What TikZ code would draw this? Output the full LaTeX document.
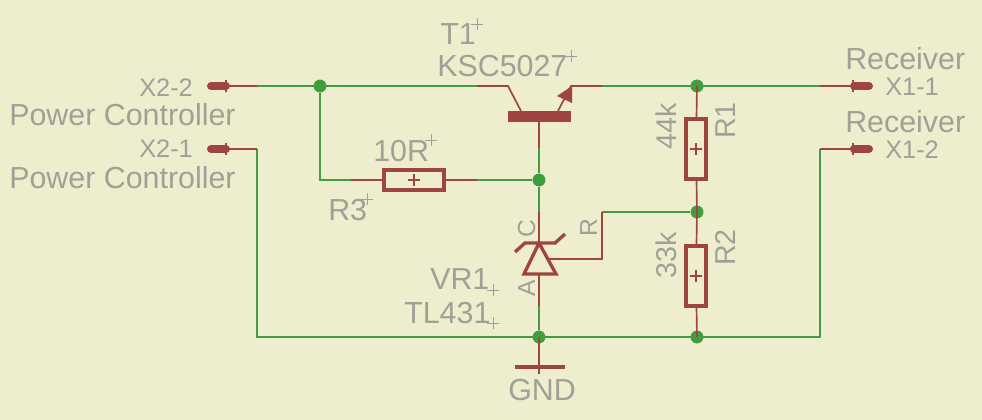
\documentclass[tikz,border=0pt]{standalone}
\usepackage{fontspec}
\setmainfont{Liberation Sans}
\usepackage{xcolor}
\usetikzlibrary{calc}
\definecolor{boardbg}{HTML}{EEEECE}
\definecolor{wiregreen}{HTML}{3F9F3F}
\definecolor{partred}{HTML}{9F453F}
\definecolor{labelgrey}{HTML}{A0A098}
\tikzset{
	wire/.style={wiregreen,line width=1.3pt},
	lead/.style={partred,line width=1.25pt},
	heavy/.style={partred,line width=2.7pt},
	pad/.style={partred,line width=6pt,line cap=round},
	junction/.style={circle,fill=wiregreen,inner sep=0pt,minimum size=9.5pt},
	resbox/.style={draw=partred,line width=2.7pt,fill=none,inner sep=0pt,outer sep=0pt},
	txt/.style={labelgrey,inner sep=0pt,anchor=base west,font=\fontsize{22.8}{26}\selectfont},
	smalltxt/.style={txt,font=\fontsize{19}{22}\selectfont},
	pintxt/.style={txt,font=\fontsize{18.5}{20}\selectfont,rotate=90},
	sidetxt/.style={txt,font=\fontsize{21.5}{25}\selectfont,rotate=90},
	originmark/.style={labelgrey,line width=0.7pt},
	redmark/.style={partred,line width=0.8pt}
}
\newcommand{\plusmark}[2]{\draw[#1] ($(#2)+(-6,0)$) -- ($(#2)+(6,0)$) ($(#2)+(0,-6)$) -- ($(#2)+(0,6)$);}
\begin{document}
\begin{tikzpicture}[x=0.75pt,y=-0.75pt]
	\fill[boardbg] (0,0) rectangle (982,420);
	\useasboundingbox (0,0) rectangle (982,420);
	% wire points
	\coordinate (x22pad) at (211,86);
	\coordinate (x22end) at (226,86);
	\coordinate (x22pin) at (257,86);
	\coordinate (x21pad) at (211,149);
	\coordinate (x21end) at (226,149);
	\coordinate (x21pin) at (257,149);
	\coordinate (x11pad) at (869,86);
	\coordinate (x11end) at (854,86);
	\coordinate (x11pin) at (820,86);
	\coordinate (x12pad) at (869,149);
	\coordinate (x12end) at (854,149);
	\coordinate (x12pin) at (820,149);
	\coordinate (base left) at (257,337);
	\coordinate (base right) at (820,337);
	\coordinate (collpin) at (477,86);
	\coordinate (collknee) at (508,86);
	\coordinate (collbar) at (521,111);
	\coordinate (emitpin) at (602,86);
	\coordinate (emitknee) at (571,86);
	\coordinate (emitbar) at (558,111);
	\coordinate (basebar) at (539,122);
	\coordinate (r3 corner) at (320,180);
	\coordinate (r3 left) at (351,180);
	\coordinate (r3 right) at (477,180);
	\coordinate (vrtop) at (539,212);
	\coordinate (vrbar) at (539,243);
	\coordinate (vrbase) at (539,274);
	\coordinate (vrlow) at (539,306);
	\coordinate (vrref) at (548,259);
	\coordinate (refknee) at (602,259);
	\coordinate (refpin) at (602,212);
	\coordinate (gndbar) at (539,367);
	\coordinate (gndtick) at (539,374);
	% junctions
	\node[junction] (j1) at (320,86) {};
	\node[junction] (j2) at (697,86) {};
	\node[junction] (j3) at (539,180) {};
	\node[junction] (j4) at (697,212) {};
	\node[junction] (j5) at (697,337) {};
	\node[junction] (j6) at (539,337) {};
	% parts
	\node[resbox,minimum width=45.4pt,minimum height=15.4pt] (R3) at (414,180) {};
	\node[resbox,minimum width=15.4pt,minimum height=45.4pt] (R1) at (696,149) {};
	\node[resbox,minimum width=15.4pt,minimum height=45.4pt] (R2) at (696,276) {};
	% green nets
	\draw[wire] (x22pin) -- (collpin);
	\draw[wire] (emitpin) -- (x11pin);
	\draw[wire] (j1) -- (r3 corner) -- (r3 left);
	\draw[wire] (r3 right) -- (j3);
	\draw[wire] (j3) -- (vrtop);
	\draw[wire] (basebar) ++(0,26) -- (j3);
	\draw[wire] (vrlow) -- (j6);
	\draw[wire] (x21pin) -- (base left) -- (base right) -- (x12pin);
	\draw[wire] (refpin) -- (j4);
	% junction dots stay on top of the nets
	\node[junction] at (j1) {};
	\node[junction] at (j2) {};
	\node[junction] at (j3) {};
	\node[junction] at (j4) {};
	\node[junction] at (j5) {};
	\node[junction] at (j6) {};
	% connectors
	\draw[pad] (x22pad) -- (x22end);
	\draw[pad] (x21pad) -- (x21end);
	\draw[pad] (x11pad) -- (x11end);
	\draw[pad] (x12pad) -- (x12end);
	\draw[lead] (x22end) -- (x22pin);
	\draw[lead] (x21end) -- (x21pin);
	\draw[lead] (x11end) -- (x11pin);
	\draw[lead] (x12end) -- (x12pin);
	\draw[redmark] (226,80) -- (226,92);
	\draw[redmark] (226,143) -- (226,155);
	\draw[redmark] (853,80) -- (853,92);
	\draw[redmark] (853,143) -- (853,155);
	% transistor
	\draw[lead] (collpin) -- (collknee) -- (collbar);
	\draw[lead] (emitpin) -- (emitknee) -- (emitbar);
	\fill[partred] (557,96) -- (572,86) -- (572,103) -- cycle;
	\fill[partred] (508,111) rectangle (571,122);
	\draw[lead] (basebar) -- ++(0,26);
	% resistors
	\draw[lead] (r3 left) -- (R3);
	\draw[lead] (R3) -- (r3 right);
	\draw[lead] (j2.center) -- (R1);
	\draw[lead] (R1) -- (j4.center);
	\draw[lead] (j4.center) -- (R2);
	\draw[lead] (R2) -- (j5.center);
	\plusmark{redmark}{R3.center}
	\plusmark{redmark}{R1.center}
	\plusmark{redmark}{R2.center}
	% TL431
	\draw[lead] (vrtop) -- (vrbar);
	\draw[heavy,line width=2.5pt] (515,252) -- (525,243) -- (555,243) -- (565,234);
	\draw[heavy,line width=2.5pt,line join=miter] (vrbar) -- (556,274) -- (524,274) -- cycle;
	\draw[lead] (vrbase) -- (vrlow);
	\draw[lead] (vrref) -- (refknee) -- (refpin);
	% ground
	\draw[lead] (j6.center) -- (gndbar);
	\draw[heavy] (515,367) -- (565,367);
	\draw[redmark] (gndbar) -- (gndtick);
	% labels
	\node[smalltxt] (lx22) at (139,97) {X2-2};
	\node[txt] (lpc2) at (9,125.5) {Power Controller};
	\node[smalltxt] (lx21) at (139,158) {X2-1};
	\node[txt] (lpc1) at (9,188.5) {Power Controller};
	\node[txt] (lrec1) at (845,69.5) {Receiver};
	\node[smalltxt] (lx11) at (885,96) {X1-1};
	\node[txt] (lrec2) at (845,132.5) {Receiver};
	\node[smalltxt] (lx12) at (885,159) {X1-2};
	\node[txt] (lt1) at (440,45) {T1};
	\node[txt] (lksc) at (437,77) {KSC5027};
	\node[txt] (l10r) at (373,162) {10R};
	\node[txt] (lr3) at (328,221) {R3};
	\node[txt] (lvr1) at (430,290) {VR1};
	\node[txt] (ltl) at (404,324) {TL431};
	\node[txt] (lgnd) at (508,400) {GND};
	\node[pintxt] (lc) at (535,238) {C};
	\node[pintxt] (la) at (535,297) {A};
	\node[pintxt] (lr) at (597,237) {R};
	\node[sidetxt] (l44k) at (676,150) {44k};
	\node[sidetxt] (lr1) at (735,139) {R1};
	\node[sidetxt] (l33k) at (676,279) {33k};
	\node[sidetxt] (lr2) at (735,266) {R2};
	% text origin marks
	\coordinate (mt1) at (477,24);
	\coordinate (mksc) at (571,56);
	\coordinate (m10r) at (431,140);
	\coordinate (mr3) at (367,199);
	\coordinate (mvr1) at (493,290);
	\coordinate (mtl) at (493,323);
	\plusmark{originmark}{mt1}
	\plusmark{originmark}{mksc}
	\plusmark{originmark}{m10r}
	\plusmark{originmark}{mr3}
	\plusmark{originmark}{mvr1}
	\plusmark{originmark}{mtl}
\end{tikzpicture}
\end{document}
